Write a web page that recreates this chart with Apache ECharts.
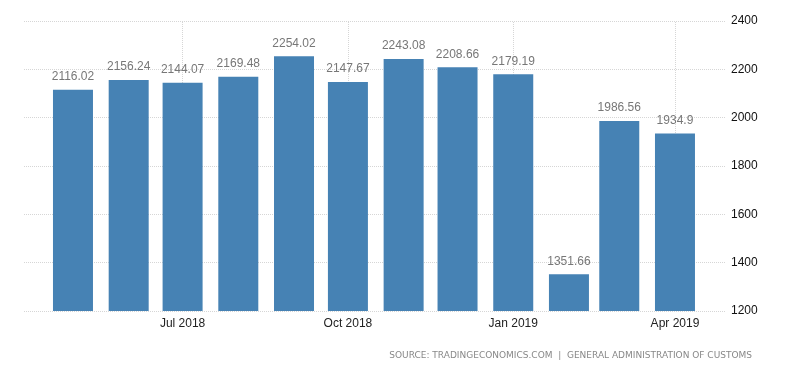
<!DOCTYPE html>
<html><head><meta charset="utf-8">
<script src="https://cdn.jsdelivr.net/npm/echarts@6/dist/echarts.min.js"></script>
<style>html,body{margin:0;padding:0;background:#fff}#c{width:800px;height:373px}</style>
</head><body><div id="c"></div>
<script>
const months = ['2018-05-01','2018-06-01','2018-07-01','2018-08-01','2018-09-01','2018-10-01','2018-11-01','2018-12-01','2019-01-01','2019-02-01','2019-03-01','2019-04-01'];
const values = [2116.02, 2156.24, 2144.07, 2169.48, 2254.02, 2147.67, 2243.08, 2208.66, 2179.19, 1351.66, 1986.56, 1934.9];
const xTicks = ['2018-07-01','2018-10-01','2019-01-01','2019-04-01'];
const xTickLabels = ['Jul 2018','Oct 2018','Jan 2019','Apr 2019'];
const yTicks = [1200, 1400, 1600, 1800, 2000, 2200, 2400];
const sourceText = 'SOURCE: TRADINGECONOMICS.COM  |  GENERAL ADMINISTRATION OF CUSTOMS';

const chart = echarts.init(document.getElementById('c'), null, {renderer:'canvas'});
const toT = s => +new Date(s.length > 10 ? s : s + 'T00:00:00');
chart.setOption({
  animation:false,
  grid:{left:24,right:75,top:21,bottom:62},
  xAxis:{
    type:'time',
    min: toT('2018-04-14T21:00:00'),
    max: toT('2019-04-17T17:00:00'),
    axisLine:{show:false}, axisTick:{show:false}, axisLabel:{show:false},
    splitLine:{show:false}
  },
  yAxis:{
    type:'value', position:'right', min:yTicks[0], max:yTicks[yTicks.length-1], interval:200,
    axisLine:{show:false}, axisTick:{show:false},
    axisLabel:{color:'#111', fontFamily:'Liberation Sans', fontSize:12, margin:6, formatter:v=>String(v)},
    splitLine:{show:true, lineStyle:{color:'#d6d6d6', type:[1,1]}}
  },
  series:[{
    type:'bar',
    data: months.map((m,i)=>[toT(m), values[i]]),
    barWidth:40,
    itemStyle:{color:'#4682b4'},
    label:{show:true, position:'top', distance:7, color:'#777', fontFamily:'Liberation Sans', fontSize:12,
      formatter:function(p){return String(values[p.dataIndex]);}},
    markLine:{
      silent:true, symbol:'none', z:1,
      lineStyle:{color:'#d6d6d6', type:[1,1], width:1},
      label:{show:true, position:'start', distance:7, color:'#222', fontFamily:'Liberation Sans', fontSize:12,
        formatter:function(p){return xTickLabels[p.dataIndex];}},
      data: xTicks.map(t=>({xAxis: toT(t)}))
    }
  }],
  graphic:[{
    type:'text', right:48, top:351,
    style:{text:sourceText, fill:'#888', font:'9px "DejaVu Sans"'}
  }]
});
</script></body></html>
